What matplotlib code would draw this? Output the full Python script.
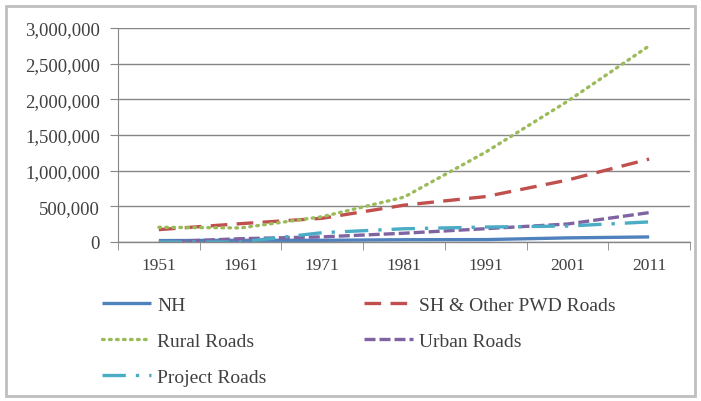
import matplotlib
matplotlib.use("Agg")
import matplotlib.pyplot as plt
from matplotlib.patches import Rectangle
from matplotlib.ticker import FuncFormatter, MultipleLocator

years = ["1951", "1961", "1971", "1981", "1991", "2001", "2011"]
nh = [19811, 23798, 23838, 31671, 33650, 57737, 70934]
sh_pwd = [173723, 257125, 332858, 516254, 636746, 868101, 1162793]
rural = [206408, 197194, 354530, 628865, 1260430, 1972016, 2749804]
urban = [0, 46361, 72120, 123120, 186799, 252001, 411679]
project = [0, 0, 130893, 185511, 209737, 223665, 281628]

plt.rcParams['font.family'] = ['Liberation Serif', 'DejaVu Serif']

W, H = 701, 402
fig = plt.figure(figsize=(W/100, H/100), dpi=100)
ax = fig.add_axes([118/W, 1-243/H, (690-118)/W, (243-29)/H])

x = list(range(len(years)))
lw = 2.4
l_nh, = ax.plot(x, nh, color='#4F81BD', lw=lw, solid_capstyle='butt', label='NH')
l_sh, = ax.plot(x, sh_pwd, color='#C0504D', lw=lw, dashes=(5, 2.8), label='SH & Other PWD Roads')
l_ru, = ax.plot(x, rural, color='#9BBB59', lw=lw, dashes=(0.5, 1.6), dash_capstyle='round', label='Rural Roads')
l_ur, = ax.plot(x, urban, color='#8064A2', lw=lw, dashes=(3.3, 1.2), label='Urban Roads')
l_pr, = ax.plot(x, project, color='#4BACC6', lw=lw, dashes=(7, 3, 1, 3), label='Project Roads')

ax.set_xlim(-0.5, len(years) - 0.5)
ax.set_ylim(0, 3000000)
ax.yaxis.set_major_locator(MultipleLocator(500000))
ax.yaxis.set_major_formatter(FuncFormatter(lambda v, p: f"{int(v):,}"))
ax.set_xticks(x)
ax.set_xticklabels(years)
ax.set_xticks([i - 0.5 for i in range(len(years) + 1)], minor=True)
ax.tick_params(axis='x', which='major', length=0, labelsize=12.5, pad=11, labelcolor='#404040')
ax.tick_params(axis='x', which='minor', length=6, color='#868686', direction='out')
ax.tick_params(axis='y', length=6, color='#868686', labelsize=13.5, pad=7, labelcolor='#404040')
ax.grid(axis='y', color='#868686', lw=1)
ax.set_axisbelow(True)
for s in ['top', 'right']:
    ax.spines[s].set_visible(False)
ax.spines['left'].set_color('#868686')
ax.spines['bottom'].set_color('#868686')
ax.spines['bottom'].set_linewidth(1)

handles = [l_nh, l_ru, l_pr, l_sh, l_ur]
labels = [h.get_label() for h in handles]
leg = fig.legend(handles, labels, ncol=2, loc='upper left',
                 bbox_to_anchor=(102/W, 1-297/H), frameon=False, fontsize=14,
                 handlelength=2.5, handletextpad=0.35, columnspacing=5.0,
                 labelspacing=0.95, borderpad=0, borderaxespad=0)
for t in leg.get_texts():
    t.set_color('#404040')

fig.add_artist(Rectangle((6/W, 5/H), (W-12)/W, (H-12)/H, transform=fig.transFigure,
                         fill=False, edgecolor='#bfbfbf', lw=2))

fig.savefig("out.png", dpi=100)
